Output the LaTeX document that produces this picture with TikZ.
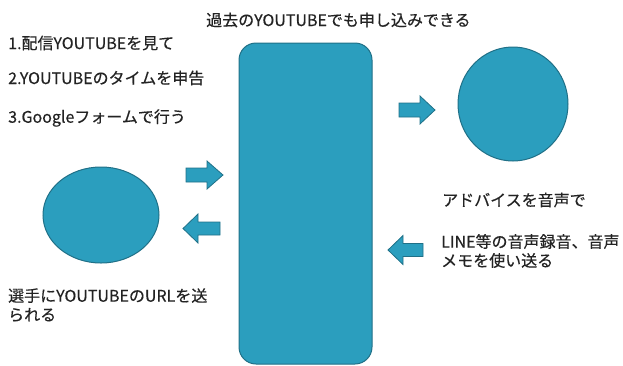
\documentclass[tikz,border=0pt]{standalone}
\usepackage{fontspec}
\setmainfont{Noto Sans CJK JP}[FakeBold=0.4]
\usetikzlibrary{shapes.geometric}
\definecolor{shapefill}{RGB}{43,158,190}
\definecolor{shapeedge}{RGB}{32,112,135}
\definecolor{txt}{RGB}{35,35,35}
\tikzset{
  blueshape/.style={fill=shapefill, draw=shapeedge, line width=1pt, inner sep=0pt},
  bluearrow/.style={fill=shapefill, draw=shapeedge, line width=0.8pt, line join=miter},
  lbl/.style={anchor=west, inner sep=0pt, text=txt, align=left,
    font={\fontsize{16}{19}\selectfont}}
}
\begin{document}
\begin{tikzpicture}[x=1pt,y=-1pt]
\useasboundingbox (0,0) rectangle (623,365);
% main shapes
\node[blueshape, rectangle, rounded corners=17pt, minimum width=133pt, minimum height=321pt] (main) at (305.5,203.5) {};
\node[blueshape, ellipse, minimum width=110pt, minimum height=114pt] (rcircle) at (513,104) {};
\node[blueshape, ellipse, minimum width=116pt, minimum height=96pt] (lcircle) at (101,215) {};
% block arrows
\draw[bluearrow] (186,168) -- (207,168) -- (207,161) -- (223,175) -- (207,189) -- (207,182) -- (186,182) -- cycle;
\draw[bluearrow] (220,222) -- (198,222) -- (198,214) -- (183,228.5) -- (198,243) -- (198,235) -- (220,235) -- cycle;
\draw[bluearrow] (399,103) -- (420,103) -- (420,96) -- (435,110) -- (420,124) -- (420,117) -- (399,117) -- cycle;
\draw[bluearrow] (423,243.5) -- (403,243.5) -- (403,235.5) -- (388,250) -- (403,264.5) -- (403,256.5) -- (423,256.5) -- cycle;
% texts
\node[lbl] (ttop) at (206,20) {過去のYOUTUBEでも申し込みできる};
\node[lbl] (t1) at (8,43) {1.配信YOUTUBEを見て};
\node[lbl] (t2) at (8,78) {2.YOUTUBEのタイムを申告};
\node[lbl] (t3) at (8,118) {3.Googleフォームで行う};
\node[lbl] (tadv) at (442,200) {アドバイスを音声で};
\node[lbl] (tline) at (441,251) {LINE等の音声録音、音声\\メモを使い送る};
\node[lbl] (turl) at (8,305) {選手にYOUTUBEのURLを送\\られる};
\end{tikzpicture}
\end{document}
